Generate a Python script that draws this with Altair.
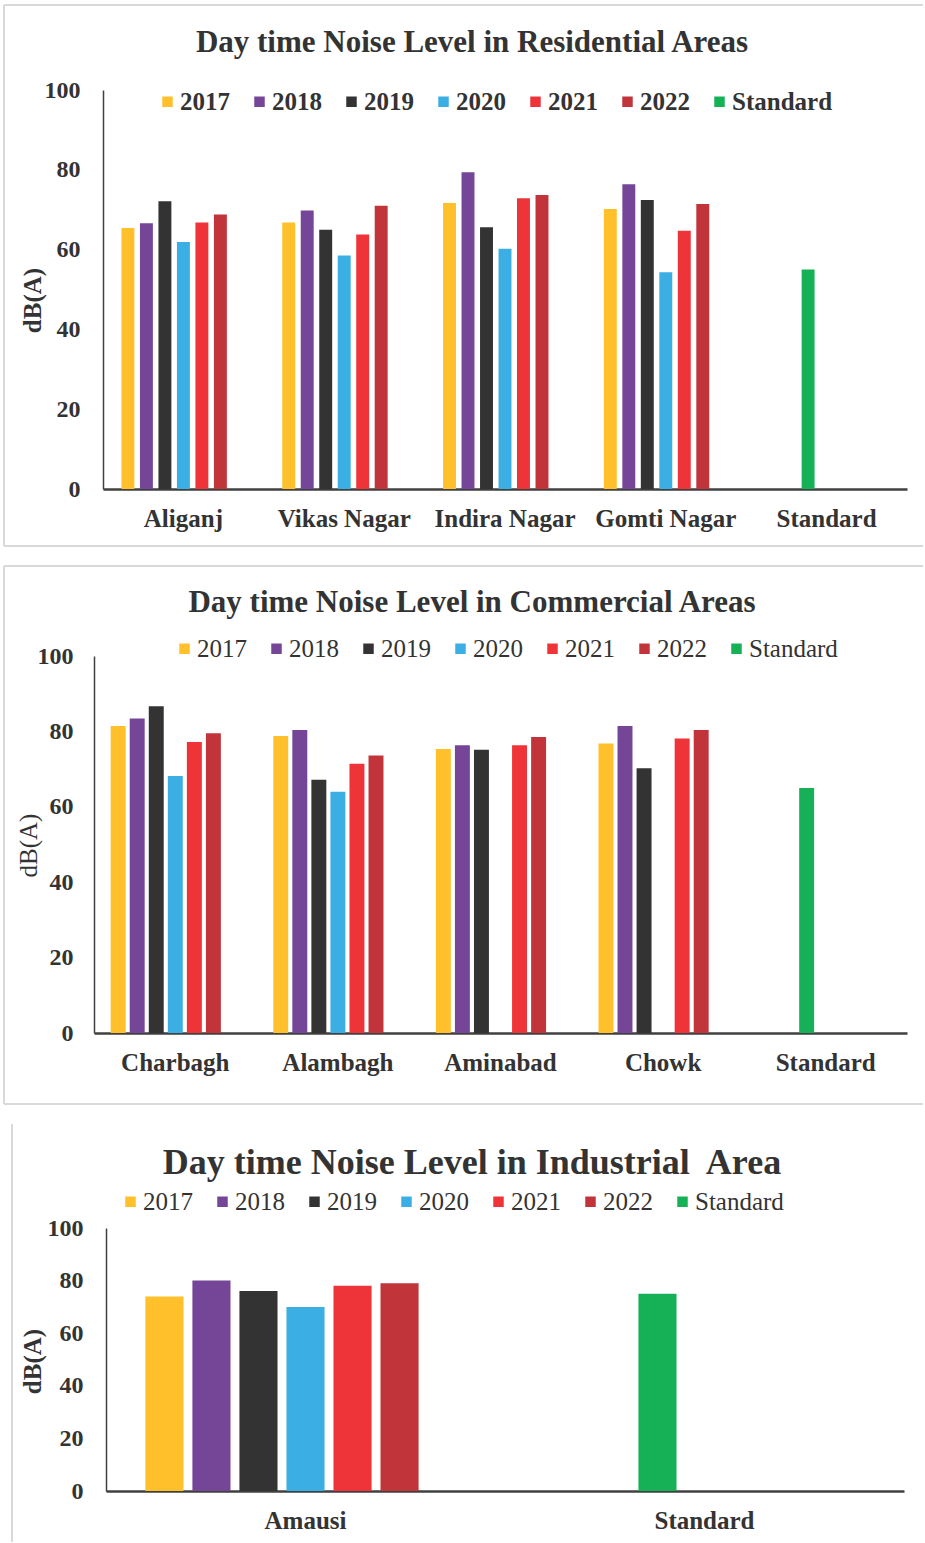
import altair as alt
import pandas as pd

FONT = "Liberation Serif"
TEXT = "#333333"
AXIS = "#404040"
FRAME = "#D9D9D9"

series = ["2017", "2018", "2019", "2020", "2021", "2022", "Standard"]
palette = ["#FFC02B", "#754697", "#333333", "#3BAEE3", "#EE3439", "#C0343A", "#16B157"]

# Residential areas, day-time noise in dB(A)
res_sites = ["Aliganj", "Vikas Nagar", "Indira Nagar", "Gomti Nagar"]
res_2017 = [65.4, 66.8, 71.7, 70.2]
res_2018 = [66.6, 69.8, 79.4, 76.4]
res_2019 = [72.1, 65.0, 65.6, 72.4]
res_2020 = [61.9, 58.5, 60.2, 54.3]
res_2021 = [66.8, 63.8, 72.9, 64.7]
res_2022 = [68.8, 71.0, 73.7, 71.4]
res_standard = 55

# Commercial areas (no 2020 readings for Aminabad and Chowk)
com_sites = ["Charbagh", "Alambagh", "Aminabad", "Chowk"]
com_2017 = [81.4, 78.8, 75.3, 76.8]
com_2018 = [83.4, 80.4, 76.3, 81.4]
com_2019 = [86.7, 67.2, 75.1, 70.2]
com_2020 = [68.2, 64.0, None, None]
com_2021 = [77.2, 71.4, 76.3, 78.1]
com_2022 = [79.5, 73.6, 78.5, 80.4]
com_standard = 65

# Industrial area
ind_sites = ["Amausi"]
ind_2017 = [74]
ind_2018 = [80]
ind_2019 = [76]
ind_2020 = [70]
ind_2021 = [78]
ind_2022 = [79]
ind_standard = 75


def long_table(sites, years, standard):
    rows = []
    for i, site in enumerate(sites):
        for slot, (label, vals) in enumerate(zip(series[:6], years)):
            if vals[i] is not None:
                rows.append({"site": site, "series": label, "slot": slot, "value": vals[i]})
    # the limit bar sits in the third slot of its own category
    rows.append({"site": "Standard", "series": "Standard", "slot": 2, "value": standard})
    return pd.DataFrame(rows)


ONE = pd.DataFrame({"k": [0]})
WIDTH = 801


def panel(df, sites, title, title_size, title_y, height, x_range, y_offset,
          pad_x, pad_slot, legend_x, legend_y, legend_weight, ytitle_weight,
          ytitle_x, ytitle_y, y_label_pad, frame_left, frame_top, frame_bottom, full_frame):
    bars = alt.Chart(df).mark_bar().encode(
        x=alt.X(
            "site:N",
            sort=sites + ["Standard"],
            scale=alt.Scale(range=x_range, paddingInner=pad_x, paddingOuter=pad_x / 2),
            axis=alt.Axis(
                title=None, labelAngle=0, labelFont=FONT, labelFontSize=25,
                labelFontWeight="bold", labelColor=TEXT, labelPadding=17,
                ticks=False, grid=False, domainColor=AXIS, domainWidth=2.5,
            ),
        ),
        xOffset=alt.XOffset(
            "slot:O",
            scale=alt.Scale(domain=list(range(7)), paddingInner=pad_slot, paddingOuter=pad_slot / 2),
        ),
        y=alt.Y(
            "value:Q",
            scale=alt.Scale(domain=[0, 100]),
            axis=alt.Axis(
                values=[0, 20, 40, 60, 80, 100], offset=y_offset,
                labelFont=FONT, labelFontSize=24, labelFontWeight="bold",
                labelColor=TEXT, labelPadding=y_label_pad, ticks=False, grid=False,
                domainColor=AXIS, domainWidth=1.5,
                title="dB(A)", titleFont=FONT, titleFontSize=25,
                titleFontWeight=ytitle_weight, titleColor=TEXT, titleAngle=270,
                titleX=ytitle_x, titleY=ytitle_y,
                titleAlign="center", titleBaseline="middle",
            ),
        ),
        color=alt.Color(
            "series:N",
            scale=alt.Scale(domain=series, range=palette),
            legend=alt.Legend(
                title=None, orient="none", legendX=legend_x, legendY=legend_y,
                direction="horizontal", symbolType="square", symbolSize=110,
                symbolStrokeWidth=0, labelFont=FONT, labelFontSize=25,
                labelFontWeight=legend_weight, labelColor=TEXT, labelOffset=0,
                columnPadding=17, padding=0, labelLimit=300,
            ),
        ),
    )

    heading = alt.Chart(ONE).mark_text(
        text=title, font=FONT, fontSize=title_size, fontWeight="bold",
        color=TEXT, align="center", baseline="middle",
    ).encode(x=alt.value(366), y=alt.value(title_y))

    rule = alt.Chart(ONE).mark_rule(color=FRAME, strokeWidth=2)
    layers = [rule.encode(x=alt.value(frame_left), y=alt.value(frame_top), y2=alt.value(frame_bottom))]
    if full_frame:
        layers.append(rule.encode(x=alt.value(frame_left), x2=alt.value(817), y=alt.value(frame_top)))
        layers.append(rule.encode(x=alt.value(frame_left), x2=alt.value(817), y=alt.value(frame_bottom)))

    return alt.layer(*layers, heading, bars).properties(width=WIDTH, height=height)


residential = panel(
    long_table(res_sites, [res_2017, res_2018, res_2019, res_2020, res_2021, res_2022], res_standard),
    res_sites, "Day time Noise Level in Residential Areas", 31, -47, 399,
    [-3, 801], 3, 0.195, 0.3, 49, -1, "bold", "bold", -71, 210, 23, -102, -85, 456, True,
)

commercial = panel(
    long_table(com_sites, [com_2017, com_2018, com_2019, com_2020, com_2021, com_2022], com_standard),
    com_sites, "Day time Noise Level in Commercial Areas", 31, -53, 377,
    [-12, 801], 12, 0.18, 0.215, 66, -20, "normal", "normal", -66, 189, 21, -102, -90, 448, True,
)

industrial = panel(
    long_table(ind_sites, [ind_2017, ind_2018, ind_2019, ind_2020, ind_2021, ind_2022], ind_standard),
    ind_sites, "Day time Noise Level in Industrial\u00a0 Area", 36, -65, 263,
    [0, 798], 0, 0.175, 0.19, 12, -39, "normal", "bold", -74, 133, 23, -94, -104, 314, False,
)

chart = (
    alt.vconcat(residential, commercial, industrial, spacing=18)
    .resolve_scale(color="independent", x="independent", xOffset="independent")
    .resolve_legend(color="independent")
    .properties(padding={"left": 3, "top": 4, "right": 0, "bottom": 0}, background="white")
    .configure_view(strokeWidth=0)
)

chart.save("out.html", embed_options={"renderer": "svg", "actions": False})
